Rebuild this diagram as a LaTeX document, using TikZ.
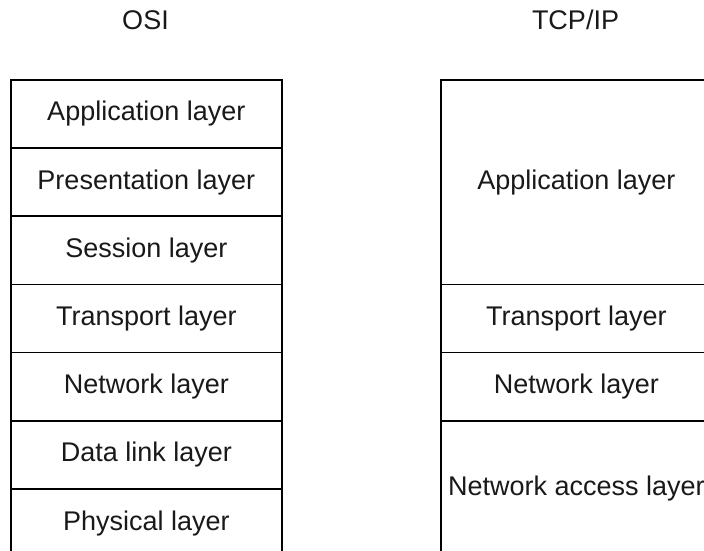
\documentclass[tikz,border=0pt]{standalone}
\usepackage{fontspec}
\setmainfont{Liberation Sans}
\begin{document}
\begin{tikzpicture}[x=1pt,y=-1pt,
  layer/.style={draw, line width=1.6pt, minimum width=271pt, inner sep=0pt,
    anchor=north west, font=\fontsize{27}{32}\selectfont, text=black!90},
  row/.style={layer, minimum height=68.2pt},
  title/.style={font=\fontsize{27}{32}\selectfont, text=black!90}]
\clip (0,0) rectangle (704,551);
\useasboundingbox (0,0) rectangle (704,551);

% OSI stack
\node[title] (osi) at (145.5,20) {OSI};
\node[row] (app)  at (10,79)    {Application layer};
\node[row] (pres) at (10,147.2) {Presentation layer};
\node[row] (sess) at (10,215.4) {Session layer};
\node[row] (trans) at (10,283.6) {Transport layer};
\node[row] (net)  at (10,351.8) {Network layer};
\node[row] (link) at (10,420)   {Data link layer};
\node[row] (phys) at (10,488.2) {Physical layer};

% TCP/IP stack
\node[title] (tcpip) at (575.5,20) {TCP/IP};
\node[layer, minimum height=204.6pt] (tapp) at (440,79) {Application layer};
\node[row] (ttrans) at (440,283.6) {Transport layer};
\node[row] (tnet)   at (440,351.8) {Network layer};
\node[layer, minimum height=136.4pt] (tacc) at (440,420) {Network access layer};
\end{tikzpicture}
\end{document}
